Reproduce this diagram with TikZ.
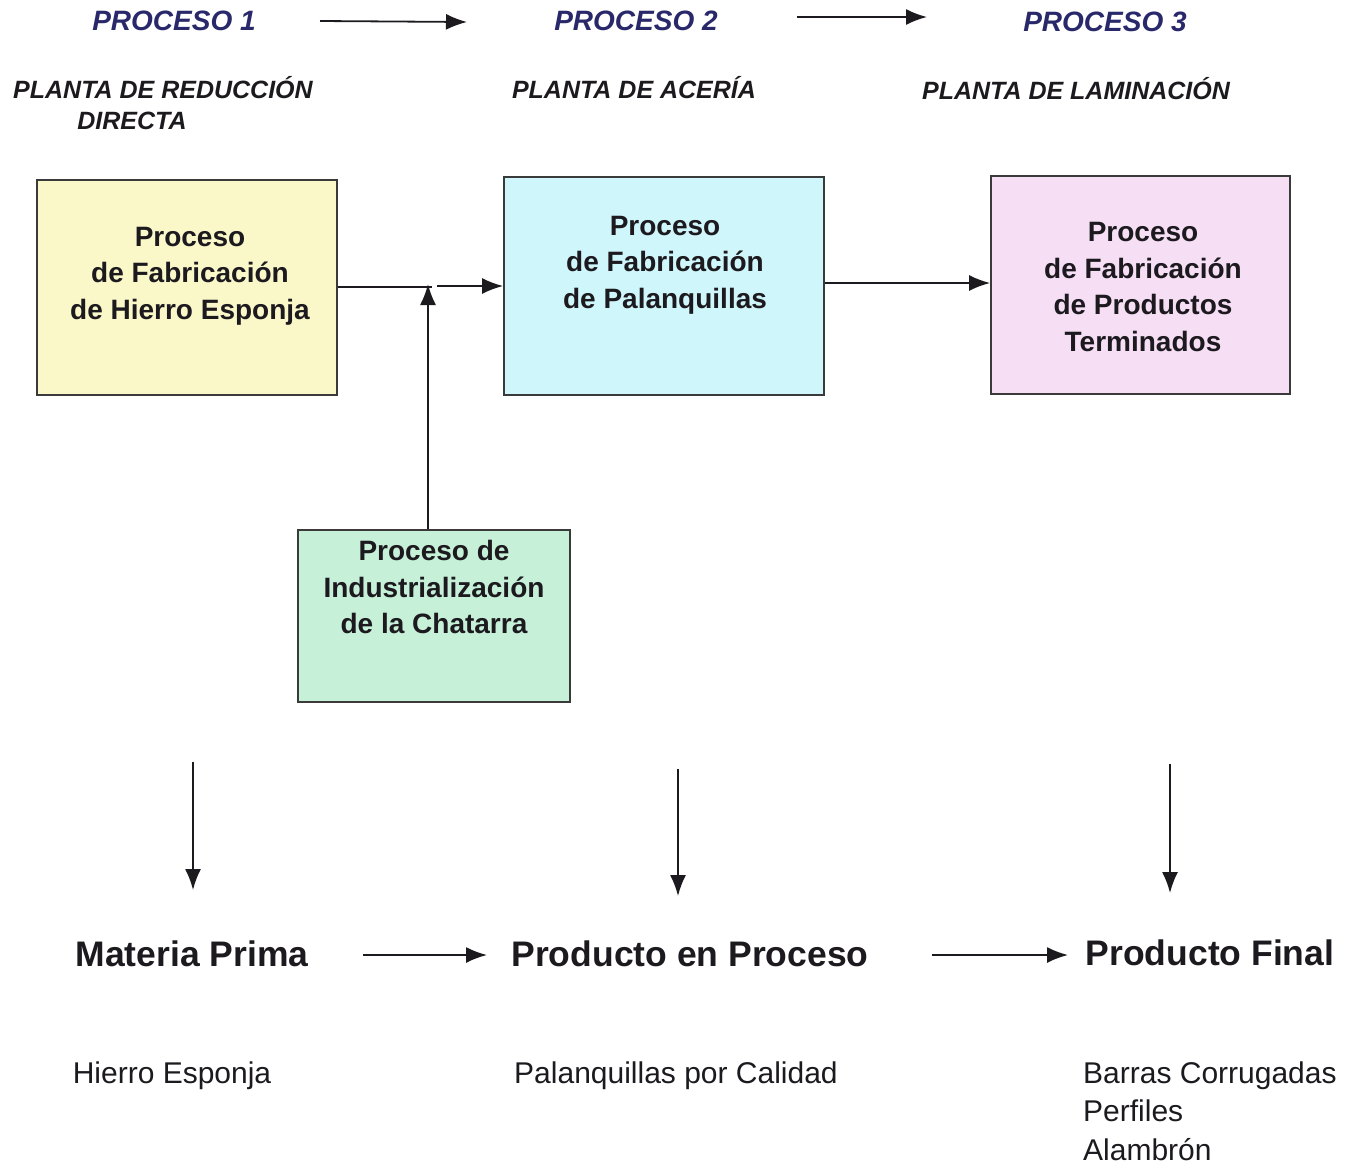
\documentclass[tikz,border=0pt]{standalone}
\usepackage{fontspec}
\setmainfont{Liberation Sans}
\usetikzlibrary{arrows.meta}

\definecolor{navy}{HTML}{28286A}
\definecolor{ink}{HTML}{1C1A1E}
\definecolor{edge}{HTML}{3A3A3A}
\definecolor{fillyellow}{HTML}{FAF8C9}
\definecolor{fillcyan}{HTML}{CFF6FA}
\definecolor{fillpink}{HTML}{F6DEF5}
\definecolor{fillgreen}{HTML}{C6F0D8}

\tikzset{
  stagebox/.style={draw=edge, line width=1.8pt, inner sep=0pt},
  boxtext/.style={inner sep=0pt, align=center, text=ink,
    font=\bfseries\fontsize{28}{36.5}\selectfont},
  proctitle/.style={inner sep=0pt, text=navy,
    font=\bfseries\itshape\fontsize{28}{34}\selectfont},
  planttitle/.style={inner sep=0pt, text=ink,
    font=\bfseries\itshape\fontsize{25}{33}\selectfont},
  stagehead/.style={inner sep=0pt, text=ink,
    font=\bfseries\fontsize{35.5}{40}\selectfont},
  stageitem/.style={inner sep=0pt, text=ink, align=left,
    font=\fontsize{30}{38.5}\selectfont},
  flow/.style={draw=ink, line width=1.8pt,
    -{Latex[length=21pt,width=16pt]}},
}

\begin{document}
\begin{tikzpicture}[x=1pt,y=-1pt]
\useasboundingbox (0,0) rectangle (1363,1168);

% process titles and the arrows linking them
\node[proctitle] (p1) at (174,21) {PROCESO 1};
\node[proctitle] (p2) at (636,21) {PROCESO 2};
\node[proctitle] (p3) at (1105,22) {PROCESO 3};
\coordinate (a1s) at (320,21);
\coordinate (a1e) at (467,22);
\coordinate (a2s) at (797,17);
\coordinate (a2e) at (927,17);
\draw[flow] (a1s) -- (a1e);
\draw[flow] (a2s) -- (a2e);

% plant names
\node[planttitle] (pl1a) at (163,88) {PLANTA DE REDUCCIÓN};
\node[planttitle] (pl1b) at (132,121) {DIRECTA};
\node[planttitle] (pl2) at (634,88) {PLANTA DE ACERÍA};
\node[planttitle] (pl3) at (1076,89) {PLANTA DE LAMINACIÓN};

% process boxes
\node[stagebox, fill=fillyellow, minimum width=300pt, minimum height=215pt]
  (bx1) at (187,287.5) {};
\node[stagebox, fill=fillcyan, minimum width=320pt, minimum height=218pt]
  (bx2) at (664,286) {};
\node[stagebox, fill=fillpink, minimum width=299pt, minimum height=218pt]
  (bx3) at (1140.5,285) {};
\node[stagebox, fill=fillgreen, minimum width=272pt, minimum height=172pt]
  (bx4) at (434,616) {};

\node[boxtext] (t1) at (190,276) {Proceso\\de Fabricación\\de Hierro Esponja};
\node[boxtext] (t2) at (665,265) {Proceso\\de Fabricación\\de Palanquillas};
\node[boxtext] (t3) at (1143,287) {Proceso\\de Fabricación\\de Productos\\Terminados};
\node[boxtext] (t4) at (434,587) {Proceso de\\Industrialización\\de la Chatarra};

% links between the boxes; the scrap feed meets the main line at a small break
\coordinate (join) at (428,287);
\coordinate (joinout) at (437,286);
\draw[draw=ink, line width=1.8pt] (bx1.east |- join) -- ([xshift=4pt]join);
\draw[flow] (joinout) -- (bx2.west |- joinout);
\draw[flow] (bx4.north -| join) -- ([yshift=3pt]join);
\draw[flow] (bx2.east |- 0,283) -- (bx3.west |- 0,283);

% stage headings
\node[stagehead] (h1) at (192,954) {Materia Prima};
\node[stagehead] (h2) at (690,954) {Producto en Proceso};
\node[stagehead] (h3) at (1210,953) {Producto Final};

% downward arrows into the stage headings
\coordinate (d1s) at (193,762);
\coordinate (d1e) at (193,890);
\coordinate (d2s) at (678,769);
\coordinate (d2e) at (678,896);
\coordinate (d3s) at (1170,764);
\coordinate (d3e) at (1170,893);
\draw[flow] (d1s) -- (d1e);
\draw[flow] (d2s) -- (d2e);
\draw[flow] (d3s) -- (d3e);

% arrows between the stage headings
\coordinate (m1s) at (363,955);
\coordinate (m1e) at (487,955);
\coordinate (m2s) at (932,955);
\coordinate (m2e) at (1068,955);
\draw[flow] (m1s) -- (m1e);
\draw[flow] (m2s) -- (m2e);

% products of each stage
\node[stageitem] (i1) at (172,1076) {Hierro Esponja};
\node[stageitem] (i2) at (676,1076) {Palanquillas por Calidad};
\node[stageitem, anchor=west] (i3) at (1083,1111) {Barras Corrugadas\\Perfiles\\Alambrón};
\end{tikzpicture}
\end{document}
